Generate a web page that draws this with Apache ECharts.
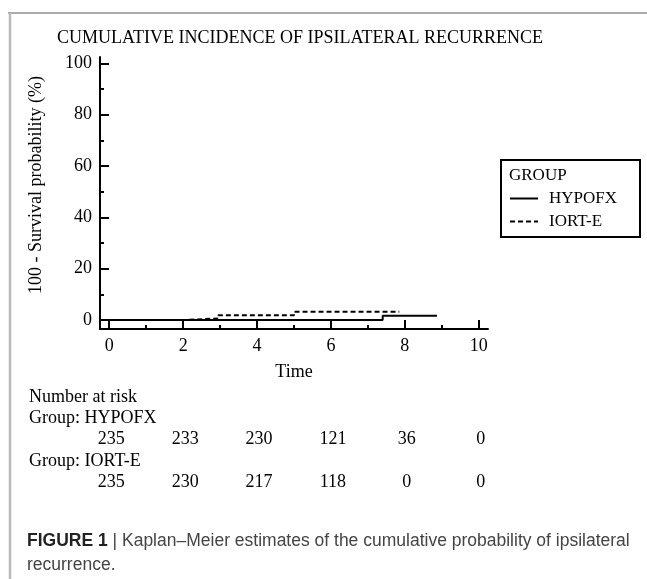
<!DOCTYPE html>
<html>
<head>
<meta charset="utf-8">
<script src="https://cdn.jsdelivr.net/npm/echarts@6/dist/echarts.min.js"></script>
<style>
  html, body { margin: 0; padding: 0; background: #fff; }
  #main { width: 647px; height: 579px; }
</style>
</head>
<body>
<div id="main"></div>
<script>
// axis ticks
var timeTicks = [0, 2, 4, 6, 8, 10];
var timeMinorTicks = [1, 3, 5, 7, 9];
var probTicks = [0, 20, 40, 60, 80, 100];
var probMinorTicks = [10, 30, 50, 70, 90];

// Kaplan-Meier steps: [time, 100 - survival (%)]
var hypofxCurve = [[0, 0], [7.4, 1.7], [8.87, 1.7]];
var iortECurve = [[0, 0], [2, 0.6], [2.95, 1.9], [5, 3.2], [7.85, 3.2]];

// number at risk table
var riskHypofx = [235, 233, 230, 121, 36, 0];
var riskIortE = [235, 230, 217, 118, 0, 0];

var serif = '"Liberation Serif", "Times New Roman", serif';
var sans = '"Liberation Sans", Arial, sans-serif';

var chart = echarts.init(document.getElementById("main"));

function majorAxis(min, max, ticks, extra) {
  return Object.assign({
    type: "value",
    min: min,
    max: max,
    axisLine: { onZero: false, lineStyle: { color: "#000", width: 2 } },
    axisTick: { inside: true, length: 9, customValues: ticks, lineStyle: { color: "#000", width: 2 } },
    axisLabel: { customValues: ticks, color: "#000", fontSize: 18, fontFamily: serif, margin: 8 },
    splitLine: { show: false },
  }, extra);
}

function minorAxis(min, max, ticks, extra) {
  return Object.assign({
    type: "value",
    min: min,
    max: max,
    axisLine: { show: false, onZero: false },
    axisTick: { inside: true, length: 4, customValues: ticks, lineStyle: { color: "#000", width: 2 } },
    axisLabel: { show: false },
    splitLine: { show: false },
  }, extra);
}

var baseGraphics = [
  // page frame
  { type: "line", shape: { x1: 8, y1: 13, x2: 647, y2: 13 }, style: { stroke: "#aaa", lineWidth: 2 } },
  { type: "line", shape: { x1: 10, y1: 13, x2: 10, y2: 579 }, style: { stroke: "#bbb", lineWidth: 2.5 } },
  // y axis title
  {
    type: "text", x: 36, y: 185, rotation: Math.PI / 2,
    style: { text: "100 - Survival probability (%)", font: "18px " + serif, fill: "#000", align: "center", verticalAlign: "middle" },
  },
  // legend box
  { type: "rect", shape: { x: 501, y: 160, width: 139, height: 77 }, style: { fill: "transparent", stroke: "#000", lineWidth: 2 } },
  { type: "text", x: 509, y: 176, style: { text: "GROUP", font: "17px " + serif, fill: "#000", verticalAlign: "middle" } },
  // number at risk labels
  { type: "text", x: 29, y: 397, style: { text: "Number at risk", font: "18px " + serif, fill: "#000", verticalAlign: "middle" } },
  { type: "text", x: 29, y: 418, style: { text: "Group: HYPOFX", font: "18px " + serif, fill: "#000", verticalAlign: "middle" } },
  { type: "text", x: 29, y: 461, style: { text: "Group: IORT-E", font: "18px " + serif, fill: "#000", verticalAlign: "middle" } },
  // caption
  {
    type: "text", x: 27, y: 541,
    style: {
      text: "{b|FIGURE 1} | Kaplan\u2013Meier estimates of the cumulative probability of ipsilateral",
      font: "17.5px " + sans, fill: "#444", verticalAlign: "middle",
      rich: { b: { fontWeight: "bold", fontSize: 17.5, fontFamily: sans, fill: "#222" } },
    },
  },
  { type: "text", x: 27, y: 565, style: { text: "recurrence.", font: "17.5px " + sans, fill: "#444", verticalAlign: "middle" } },
];

chart.setOption({
  animation: false,
  title: {
    text: "CUMULATIVE INCIDENCE OF IPSILATERAL RECURRENCE",
    left: 57,
    top: 29,
    padding: 0,
    textStyle: { color: "#000", fontSize: 18, fontWeight: "normal", fontFamily: serif },
  },
  grid: { left: 100, right: 159, top: 57, bottom: 250 },
  legend: {
    data: ["HYPOFX", "IORT-E"],
    orient: "vertical",
    left: 509,
    top: 190,
    padding: 0,
    itemWidth: 28,
    itemHeight: 14,
    itemGap: 6,
    // hide the marker dot, keep only the line
    itemStyle: { color: "rgba(0,0,0,0)", borderWidth: 0, opacity: 0 },
    textStyle: { color: "#000", fontSize: 17, fontFamily: serif, padding: [0, 0, 0, 6] },
  },
  xAxis: [
    majorAxis(-0.25, 10.25, timeTicks, {
      position: "bottom",
      name: "Time",
      nameLocation: "middle",
      nameGap: 34,
      nameTextStyle: { color: "#000", fontSize: 18, fontFamily: serif },
    }),
    minorAxis(-0.25, 10.25, timeMinorTicks, { position: "bottom" }),
  ],
  yAxis: [
    majorAxis(-3.5, 102.5, probTicks, { position: "left" }),
    minorAxis(-3.5, 102.5, probMinorTicks, { position: "left" }),
  ],
  series: [
    {
      name: "HYPOFX",
      type: "line",
      step: "end",
      symbol: "none",
      xAxisIndex: 0,
      yAxisIndex: 0,
      lineStyle: { color: "#000", width: 2 },
      itemStyle: { color: "#000" },
      data: hypofxCurve,
    },
    {
      name: "IORT-E",
      type: "line",
      step: "end",
      symbol: "none",
      xAxisIndex: 0,
      yAxisIndex: 0,
      lineStyle: { color: "#000", width: 2, type: [5, 3] },
      itemStyle: { color: "#000" },
      data: iortECurve,
    },
  ],
  graphic: baseGraphics,
});

// at-risk counts sit under the time ticks
var riskGraphics = [];
timeTicks.forEach(function (t, i) {
  var x = chart.convertToPixel({ xAxisIndex: 0 }, t) + 2;
  riskGraphics.push({ type: "text", x: x, y: 439, style: { text: String(riskHypofx[i]), font: "18px " + serif, fill: "#000", align: "center", verticalAlign: "middle" } });
  riskGraphics.push({ type: "text", x: x, y: 482, style: { text: String(riskIortE[i]), font: "18px " + serif, fill: "#000", align: "center", verticalAlign: "middle" } });
});
chart.setOption({ graphic: baseGraphics.concat(riskGraphics) });
</script>
</body>
</html>
